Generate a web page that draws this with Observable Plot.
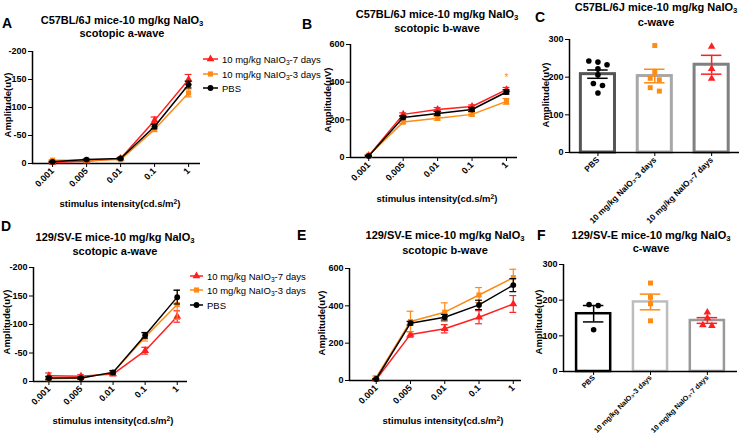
<!DOCTYPE html>
<html><head><meta charset="utf-8">
<script src="https://cdn.jsdelivr.net/npm/d3@7"></script>
<script src="https://cdn.jsdelivr.net/npm/@observablehq/plot@0.6"></script>
<style>
body{margin:0;background:#fff;}
#root{position:relative;width:742px;height:442px;overflow:hidden;font-family:'Liberation Sans',Arial,sans-serif;color:#000;background:#fff;}
.pnl{position:absolute;}
.title{position:absolute;font-weight:bold;font-size:11px;text-align:center;white-space:nowrap;transform:translateX(-50%);}
.letter{position:absolute;font-weight:bold;font-size:14px;line-height:14px;}
.ylab{position:absolute;font-weight:bold;font-size:9.5px;white-space:nowrap;transform:translate(-50%,-50%) rotate(-90deg);}
.xlab{position:absolute;font-weight:bold;font-size:9.5px;white-space:nowrap;transform:translate(-50%,-50%);}
.leg{position:absolute;font-size:9.5px;white-space:nowrap;display:flex;align-items:center;height:12px;}
.leg svg{margin-right:4px;overflow:visible;}
sub{font-size:70%;vertical-align:-0.3em;line-height:0;}
sup{font-size:70%;vertical-align:0.45em;line-height:0;}
</style></head>
<body><div id="root"></div>
<script>
// ---------- data ----------
const intensities = ["0.001", "0.005", "0.01", "0.1", "1"];
const seriesNames = ["10 mg/kg NaIO<sub>3</sub>-7 days", "10 mg/kg NaIO<sub>3</sub>-3 days", "PBS"];
const seriesColors = ["#ff1f1f", "#ff8a14", "#000000"];
const seriesSymbols = ["triangle", "square", "circle"];
const barGroups = ["PBS", "10 mg/kg NaIO₃-3 days", "10 mg/kg NaIO₃-7 days"];

// A: C57BL/6J scotopic a-wave (uV)
const aC57_7d = [-2, -4, -9, -77, -150];
const aC57_7dSem = [1, 1, 2, 6, 9];
const aC57_3d = [-6, -6, -7, -61, -126];
const aC57_3dSem = [1, 1, 1, 4, 7];
const aC57_pbs = [-3, -7, -9, -66, -141];
const aC57_pbsSem = [1, 1, 1, 4, 6];

// B: C57BL/6J scotopic b-wave (uV)
const bC57_7d = [10, 229, 255, 271, 360];
const bC57_7dSem = [3, 8, 10, 8, 12];
const bC57_3d = [12, 188, 208, 229, 298];
const bC57_3dSem = [4, 8, 10, 8, 15];
const bC57_pbs = [8, 213, 234, 255, 348];
const bC57_pbsSem = [3, 8, 10, 10, 12];
const bC57_marks = [{i: 4, v: 422, label: "*"}];

// C: C57BL/6J c-wave (uV)
const cC57_pbs = [243, 240, 233, 222, 206, 183, 178, 158];
const cC57_3d = [284, 213, 197, 193, 172, 163];
const cC57_7d = [281, 222, 196];
const cC57_means = [208, 203, 233];
const cC57_sems = [11, 18, 25];

// D: 129/SV-E scotopic a-wave (uV)
const aSv_7d = [-10, -9, -13, -54, -114];
const aSv_7dSem = [5, 3, 3, 6, 10];
const aSv_3d = [-5, -6, -16, -78, -135];
const aSv_3dSem = [2, 2, 3, 7, 26];
const aSv_pbs = [-6, -6, -16, -81, -148];
const aSv_pbsSem = [3, 2, 3, 5, 12];

// E: 129/SV-E scotopic b-wave (uV)
const bSv_7d = [5, 247, 277, 339, 410];
const bSv_7dSem = [3, 15, 22, 35, 45];
const bSv_3d = [16, 316, 366, 458, 551];
const bSv_3dSem = [8, 55, 50, 40, 45];
const bSv_pbs = [8, 307, 339, 405, 511];
const bSv_pbsSem = [3, 10, 15, 25, 35];

// F: 129/SV-E c-wave (uV)
const cSv_pbs = [188, 185, 117];
const cSv_3d = [248, 208, 190, 142];
const cSv_7d = [166, 150, 130, 128];
const cSv_means = [162, 195, 143];
const cSv_sems = [23, 22, 8];

// ---------- helpers ----------
const root = document.getElementById("root");
const baseStyle = {fontFamily: "'Liberation Sans', Arial, sans-serif", fontSize: "9px", fontWeight: "bold", background: "transparent", overflow: "visible", color: "#000"};

function place(node, left, top, w) {
  const d = document.createElement("div");
  d.className = "pnl"; d.style.left = left + "px"; d.style.top = top + "px"; d.style.width = w + "px";
  d.appendChild(node); root.appendChild(d);
}

function linePanel(cfg) {
  const marks = [
    Plot.ruleY([0], {strokeWidth: 1.5}),
    Plot.ruleX([cfg.xDomain[0]], {strokeWidth: 1.5}),
    Plot.axisY({ticks: cfg.yTicks, tickFormat: d => String(d), tickSize: 4, tickPadding: 2, label: null}),
    Plot.axisX({ticks: [0, 1, 2, 3, 4], tickFormat: i => intensities[i], tickRotate: -45, tickSize: 4, tickPadding: 2, label: null})
  ];
  cfg.series.forEach((s, k) => {
    const d = s.values.map((v, i) => ({i, v, e: s.sem[i]}));
    const c = seriesColors[k];
    marks.push(Plot.ruleX(d, {x: "i", y1: r => r.v - r.e, y2: r => r.v + r.e, stroke: c, strokeWidth: 1.2}));
    marks.push(Plot.ruleY(d, {x1: r => r.i - 0.1, x2: r => r.i + 0.1, y: r => r.v + r.e, stroke: c, strokeWidth: 1.2}));
    marks.push(Plot.ruleY(d, {x1: r => r.i - 0.1, x2: r => r.i + 0.1, y: r => r.v - r.e, stroke: c, strokeWidth: 1.2}));
    marks.push(Plot.line(d, {x: "i", y: "v", stroke: c, strokeWidth: 1.5}));
    marks.push(Plot.dot(d, {x: "i", y: "v", symbol: seriesSymbols[k], fill: c, r: 2.9}));
  });
  if (cfg.extra) marks.push(...cfg.extra);
  const p = Plot.plot({
    width: cfg.W, height: cfg.H,
    marginLeft: cfg.mL, marginRight: cfg.mR, marginTop: cfg.mT, marginBottom: cfg.mB,
    x: {type: "linear", domain: cfg.xDomain},
    y: {type: "linear", domain: cfg.yDomain},
    style: baseStyle, marks
  });
  place(p, cfg.left, cfg.top, cfg.W);
}

function swarmOffsets(values, thr, step) {
  const order = values.map((v, j) => j).sort((a, b) => values[b] - values[a]);
  const off = new Array(values.length).fill(0);
  let cl = [];
  const flush = () => { cl.forEach((j, k) => off[j] = (k - (cl.length - 1) / 2) * step); cl = []; };
  for (const j of order) {
    if (cl.length && values[cl[0]] - values[j] > thr) flush();
    cl.push(j);
  }
  flush();
  return off;
}

function barPanel(cfg) {
  const symbolsByGroup = ["circle", "square", "triangle"];
  const colorsByGroup = ["#000000", "#ff8a14", "#ff1f1f"];
  const marks = [];
  cfg.means.forEach((m, g) => {
    marks.push(Plot.rect([{g, m}], {x1: d => d.g - 0.3, x2: d => d.g + 0.3, y1: d => 0, y2: d => d.m, fill: "white", stroke: cfg.barStroke[g], strokeWidth: cfg.barWidth}));
  });
  marks.push(Plot.ruleY([0], {strokeWidth: 1.5}));
  marks.push(Plot.ruleX([cfg.xDomain[0]], {strokeWidth: 1.5}));
  marks.push(Plot.axisY({ticks: [0, 100, 200, 300], tickSize: 4, tickPadding: 2, label: null}));
  marks.push(Plot.axisX({ticks: [0, 1, 2], tickFormat: i => barGroups[i], tickRotate: -45, tickSize: 4, tickPadding: cfg.labelPad, label: null, fontSize: cfg.labelSize}));
  cfg.points.forEach((vals, g) => {
    const off = swarmOffsets(vals, 15, 0.16);
    const d = vals.map((v, j) => ({x: g + off[j], v}));
    marks.push(Plot.dot(d, {x: "x", y: "v", symbol: symbolsByGroup[g], fill: colorsByGroup[g], r: 2.8}));
  });
  cfg.means.forEach((m, g) => {
    const e = cfg.sems[g];
    const d = [{g, m, e}];
    const c = colorsByGroup[g];
    marks.push(Plot.ruleX(d, {x: "g", y1: r => r.m - r.e, y2: r => r.m + r.e, stroke: c, strokeWidth: 1.5}));
    marks.push(Plot.ruleY(d, {x1: r => r.g - 0.18, x2: r => r.g + 0.18, y: r => r.m + r.e, stroke: c, strokeWidth: 1.5}));
    marks.push(Plot.ruleY(d, {x1: r => r.g - 0.18, x2: r => r.g + 0.18, y: r => r.m - r.e, stroke: c, strokeWidth: 1.5}));
  });
  const p = Plot.plot({
    width: cfg.W, height: cfg.H,
    marginLeft: cfg.mL, marginRight: cfg.mR, marginTop: cfg.mT, marginBottom: cfg.mB,
    x: {type: "linear", domain: cfg.xDomain},
    y: {type: "linear", domain: [0, 300]},
    style: baseStyle, marks
  });
  place(p, cfg.left, cfg.top, cfg.W);
}

function ser(v7, e7, v3, e3, vp, ep) {
  return [{values: v7, sem: e7}, {values: v3, sem: e3}, {values: vp, sem: ep}];
}

// ---------- panels ----------
linePanel({left: 0, top: 0, W: 240, H: 215, mL: 32, mR: 40, mT: 51, mB: 52,
  xDomain: [-0.59, 4.35], yDomain: [0, -200], yTicks: [0, -50, -100, -150, -200],
  series: ser(aC57_7d, aC57_7dSem, aC57_3d, aC57_3dSem, aC57_pbs, aC57_pbsSem)});

linePanel({left: 300, top: 0, W: 222, H: 215, mL: 50, mR: 5, mT: 44, mB: 58,
  xDomain: [-0.53, 4.32], yDomain: [0, 600], yTicks: [0, 200, 400, 600],
  series: ser(bC57_7d, bC57_7dSem, bC57_3d, bC57_3dSem, bC57_pbs, bC57_pbsSem),
  extra: [Plot.text(bC57_marks, {x: "i", y: "v", text: "label", fill: "#ff8a14", fontSize: 10, fontWeight: "normal"})]});

barPanel({left: 530, top: 0, W: 212, H: 240, mL: 39, mR: 3, mT: 39, mB: 88,
  xDomain: [-0.5, 2.49], means: cC57_means, sems: cC57_sems, labelSize: 8.3, labelPad: 2,
  points: [cC57_pbs, cC57_3d, cC57_7d], barStroke: ["#555555", "#a8a8a8", "#808080"], barWidth: 3});

linePanel({left: 0, top: 220, W: 240, H: 222, mL: 33, mR: 53, mT: 47, mB: 61,
  xDomain: [-0.48, 4.32], yDomain: [0, -200], yTicks: [0, -50, -100, -150, -200],
  series: ser(aSv_7d, aSv_7dSem, aSv_3d, aSv_3dSem, aSv_pbs, aSv_pbsSem)});

linePanel({left: 300, top: 220, W: 222, H: 222, mL: 49, mR: 1, mT: 48, mB: 62,
  xDomain: [-0.78, 4.24], yDomain: [0, 600], yTicks: [0, 200, 400, 600],
  series: ser(bSv_7d, bSv_7dSem, bSv_3d, bSv_3dSem, bSv_pbs, bSv_pbsSem)});

barPanel({left: 530, top: 220, W: 212, H: 222, mL: 33, mR: 5, mT: 44, mB: 71,
  xDomain: [-0.53, 2.53], means: cSv_means, sems: cSv_sems, labelSize: 7.2, labelPad: 1,
  points: [cSv_pbs, cSv_3d, cSv_7d], barStroke: ["#000000", "#bdbdbd", "#999999"], barWidth: 2.5});

// ---------- texts ----------
const titles = [
  {x: 122, y: 14, lh: 13, l1: "C57BL/6J mice-10 mg/kg NaIO<sub>3</sub>", l2: "scotopic a-wave"},
  {x: 437, y: 6.5, lh: 14, l1: "C57BL/6J mice-10 mg/kg NaIO<sub>3</sub>", l2: "scotopic b-wave"},
  {x: 656, y: 0, lh: 14.5, l1: "C57BL/6J mice-10 mg/kg NaIO<sub>3</sub>", l2: "c-wave"},
  {x: 115, y: 230, lh: 14, l1: "129/SV-E mice-10 mg/kg NaIO<sub>3</sub>", l2: "scotopic a-wave"},
  {x: 445, y: 228, lh: 14.5, l1: "129/SV-E mice-10 mg/kg NaIO<sub>3</sub>", l2: "scotopic b-wave"},
  {x: 651, y: 228.5, lh: 13.5, l1: "129/SV-E mice-10 mg/kg NaIO<sub>3</sub>", l2: "c-wave"}
];
titles.forEach(t => {
  const d = document.createElement("div");
  d.className = "title"; d.style.left = t.x + "px"; d.style.top = t.y + "px"; d.style.lineHeight = t.lh + "px";
  d.innerHTML = t.l1 + "<br>" + t.l2; root.appendChild(d);
});
const letters = [["A", 2, 16], ["B", 302, 16.5], ["C", 535, 10], ["D", 1, 219], ["E", 297, 228], ["F", 537, 228]];
letters.forEach(([s, x, y]) => {
  const d = document.createElement("div");
  d.className = "letter"; d.style.left = x + "px"; d.style.top = y + "px"; d.textContent = s; root.appendChild(d);
});
const yLabels = [[6.5, 105], [327, 100], [545, 95], [5.5, 322], [321, 323], [538, 322]];
yLabels.forEach(([x, y]) => {
  const d = document.createElement("div");
  d.className = "ylab"; d.style.left = x + "px"; d.style.top = y + "px"; d.textContent = "Amplitude(uV)"; root.appendChild(d);
});
const xLabels = [[120, 203], [437, 198], [113, 420], [443, 420]];
xLabels.forEach(([x, y]) => {
  const d = document.createElement("div");
  d.className = "xlab"; d.style.left = x + "px"; d.style.top = y + "px"; d.innerHTML = "stimulus intensity(cd.s/m<sup>2</sup>)"; root.appendChild(d);
});

// ---------- legends ----------
const symMap = {triangle: d3.symbolTriangle, square: d3.symbolSquare, circle: d3.symbolCircle};
function legend(left, centers, lineW) {
  seriesNames.forEach((name, k) => {
    const row = document.createElement("div");
    row.className = "leg"; row.style.left = left + "px"; row.style.top = (centers[k] - 6) + "px";
    const ns = "http://www.w3.org/2000/svg";
    const svg = document.createElementNS(ns, "svg");
    svg.setAttribute("width", lineW); svg.setAttribute("height", 12);
    const ln = document.createElementNS(ns, "line");
    ln.setAttribute("x1", 0); ln.setAttribute("x2", lineW); ln.setAttribute("y1", 6); ln.setAttribute("y2", 6);
    ln.setAttribute("stroke", seriesColors[k]); ln.setAttribute("stroke-width", 1.5);
    const pth = document.createElementNS(ns, "path");
    pth.setAttribute("d", d3.symbol(symMap[seriesSymbols[k]], 2.9 * 2.9 * Math.PI)());
    pth.setAttribute("transform", `translate(${lineW / 2},6)`); pth.setAttribute("fill", seriesColors[k]);
    svg.appendChild(ln); svg.appendChild(pth);
    const sp = document.createElement("span"); sp.innerHTML = name;
    row.appendChild(svg); row.appendChild(sp); root.appendChild(row);
  });
}
legend(203, [59, 74, 88], 15);
legend(190, [276, 290, 305], 13);
</script>
</body></html>
